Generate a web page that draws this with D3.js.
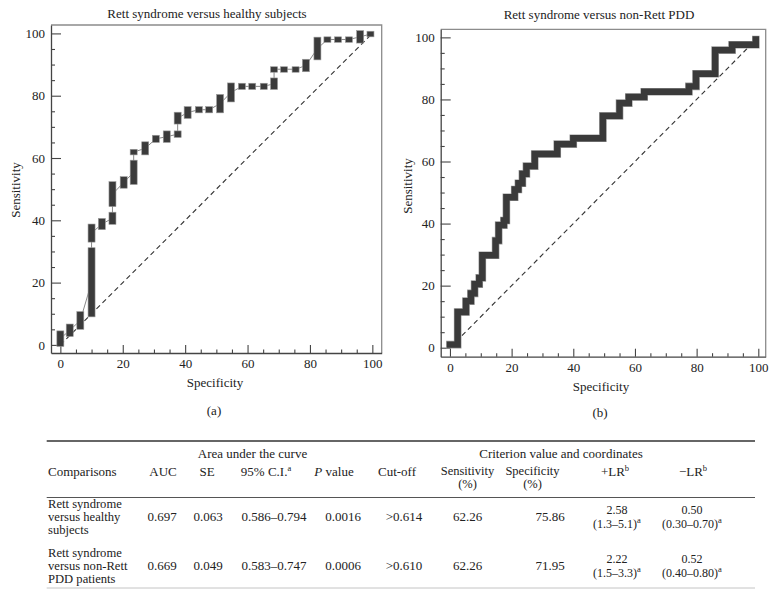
<!DOCTYPE html>
<html><head><meta charset="utf-8">
<script src="https://cdn.jsdelivr.net/npm/d3@7"></script>
<style>
body{margin:0;background:#fff}
svg{display:block}
text{font-family:"Liberation Serif","DejaVu Serif",serif;fill:#222}
</style>
</head><body>
<svg id="c" width="775" height="597"></svg>
<script>
// ---------------- DATA ----------------
const majorTicks = [0, 20, 40, 60, 80, 100];
const minorTicks = [5, 10, 15, 25, 30, 35, 45, 50, 55, 65, 70, 75, 85, 90, 95];
const titleA = "Rett syndrome versus healthy subjects";
const titleB = "Rett syndrome versus non-Rett PDD";
const xLabel = "Specificity";
const yLabel = "Sensitivity";
const panelTags = ["(a)", "(b)"];

// Panel (a): ROC points drawn as boxes (specificity, sensitivity range)
const healthySpec = [0, 3, 6.4, 10, 10, 13.3, 16.7, 16.7, 20.3, 23.5, 23.5, 27.2, 30.6, 34.1, 37.6, 37.6, 40.8, 44.4, 47.7, 51.2, 54.7, 58.2, 61.5, 65.2, 68.5, 68.5, 71.7, 75.4, 78.7, 82.4, 85.6, 89, 92.5, 96.1, 99.4];
const healthySensLow = [-0.5, 2.7, 5, 9, 33, 37, 38.7, 44.4, 50.3, 51.5, 61, 61, 65, 65, 66.6, 70.9, 72.7, 74.5, 74.5, 74.5, 78, 82, 82, 82, 82, 87.7, 87.7, 87.7, 87.7, 91.5, 97.2, 97.2, 97.2, 96.9, 98.9];
const healthySensHigh = [4.5, 6.7, 10.7, 31.2, 38.8, 40.6, 42.6, 52.4, 54, 59.3, 62.8, 65.2, 67.3, 68.7, 68.7, 74.7, 76.5, 76.5, 76.5, 80.4, 84.1, 84, 84, 84, 85.7, 89.3, 89.3, 89.3, 91.7, 98.8, 98.9, 98.9, 98.9, 100.9, 100.7];

// Panel (b): staircase ROC curve vertices
const pddSpec = [0, 2.5, 2.5, 5.2, 5.2, 6.8, 6.8, 8, 8, 9.5, 9.5, 10.5, 10.5, 14.8, 14.8, 15.8, 15.8, 17.5, 17.5, 18.3, 18.3, 21, 21, 22.2, 22.2, 23.5, 23.5, 24.8, 24.8, 27.5, 27.5, 34.8, 34.8, 40, 40, 49.6, 49.6, 55, 55, 58, 58, 63, 63, 77.5, 77.5, 79.8, 79.8, 86, 86, 91.5, 91.5, 99.2, 99.2];
const pddSens = [1, 1, 11.5, 11.5, 15, 15, 17.5, 17.5, 20.5, 20.5, 22.5, 22.5, 29.8, 29.8, 34.5, 34.5, 39.5, 39.5, 41, 41, 48.5, 48.5, 51, 51, 53, 53, 56, 56, 58.5, 58.5, 62.4, 62.4, 65.6, 65.6, 67.5, 67.5, 74.7, 74.7, 78.8, 78.8, 80.8, 80.8, 82.5, 82.5, 84.2, 84.2, 88.3, 88.3, 95.9, 95.9, 97.6, 97.6, 99.3];

const diagonal = [0, 100];

// Table
const groupHeaders = ["Area under the curve", "Criterion value and coordinates"];
const columnHeaders = ["Comparisons", "AUC", "SE", "95% C.I.", "P value", "Cut-off", "Sensitivity", "Specificity", "+LR", "\u2212LR"];
const percentUnit = "(%)";
const comparisons = [["Rett syndrome", "versus healthy", "subjects"], ["Rett syndrome", "versus non-Rett", "PDD patients"]];
const aucValues = ["0.697", "0.669"];
const seValues = ["0.063", "0.049"];
const ciValues = ["0.586\u20130.794", "0.583\u20130.747"];
const pValues = ["0.0016", "0.0006"];
const cutoffValues = [">0.614", ">0.610"];
const sensValues = ["62.26", "62.26"];
const specValues = ["75.86", "71.95"];
const plusLR = ["2.58", "2.22"];
const plusLRci = ["(1.3\u20135.1)", "(1.5\u20133.3)"];
const minusLR = ["0.50", "0.52"];
const minusLRci = ["(0.30\u20130.70)", "(0.40\u20130.80)"];

// ---------------- DRAW ----------------
const svg = d3.select("#c");
svg.append("rect").attr("width", 775).attr("height", 597).attr("fill", "#fff");
const FONT = "Liberation Serif, DejaVu Serif, serif";

function panel(cfg) {
  const g = svg.append("g");
  const x = d3.scaleLinear().domain(cfg.xDom).range(cfg.xRange);
  const y = d3.scaleLinear().domain(cfg.yDom).range(cfg.yRange);
  const L = cfg.xRange[0], R = cfg.xRange[1], B = cfg.yRange[0], T = cfg.yRange[1];

  g.append("path").attr("d", `M${L},${T}H${R}V${B}`)
    .attr("fill", "none").attr("stroke", "#8c8c8c").attr("stroke-width", 1.3);

  const style = s => {
    s.attr("color", "#444").attr("font-family", FONT).attr("font-size", 13);
    s.selectAll("text").attr("fill", "#222");
    s.selectAll("line").attr("stroke-width", 1.1);
    s.select(".domain").attr("stroke-width", 1.3);
  };
  g.append("g").attr("transform", `translate(0,${B})`)
    .call(d3.axisBottom(x).tickValues(minorTicks).tickSize(-3.5).tickFormat(""))
    .call(s => s.select(".domain").remove()).call(style);
  g.append("g").attr("transform", `translate(0,${B})`)
    .call(d3.axisBottom(x).tickValues(majorTicks).tickSize(-8).tickSizeOuter(0).tickPadding(6))
    .call(style);
  g.append("g").attr("transform", `translate(${L},0)`)
    .call(d3.axisLeft(y).tickValues(minorTicks).tickSize(-4).tickFormat(""))
    .call(s => s.select(".domain").remove()).call(style);
  g.append("g").attr("transform", `translate(${L},0)`)
    .call(d3.axisLeft(y).tickValues(majorTicks).tickSize(-10).tickSizeOuter(0).tickPadding(6))
    .call(style);

  g.append("line")
    .attr("x1", x(diagonal[0])).attr("y1", y(diagonal[0]))
    .attr("x2", x(diagonal[1])).attr("y2", y(diagonal[1]))
    .attr("stroke", "#333").attr("stroke-width", 1.1).attr("stroke-dasharray", "5,3.5");

  g.append("text").attr("x", cfg.titleX).attr("y", cfg.titleY).attr("text-anchor", "middle")
    .attr("font-size", 13).text(cfg.title);
  g.append("text").attr("x", cfg.xLabX).attr("y", cfg.xLabY).attr("text-anchor", "middle")
    .attr("font-size", 13).text(xLabel);
  g.append("text").attr("transform", `translate(${cfg.yLabX},${cfg.yLabY}) rotate(-90)`)
    .attr("text-anchor", "middle").attr("font-size", 13).text(yLabel);
  g.append("text").attr("x", cfg.tagX).attr("y", cfg.tagY).attr("text-anchor", "middle")
    .attr("font-size", 13).text(cfg.tag);
  return {g, x, y};
}

// Panel (a)
const A = panel({
  xDom: [-3, 103], xRange: [51, 381.7], yDom: [-2.6, 102.7], yRange: [353, 25],
  title: titleA, titleX: 207, titleY: 18,
  xLabX: 215, xLabY: 387, yLabX: 20, yLabY: 190, tag: panelTags[0], tagX: 214, tagY: 415
});
const boxes = healthySpec.map((s, i) => ({s, lo: healthySensLow[i], hi: healthySensHigh[i]}));
A.g.append("path")
  .attr("d", d3.line().x(d => A.x(d.s)).y(d => A.y((d.lo + d.hi) / 2))(boxes))
  .attr("fill", "none").attr("stroke", "#888").attr("stroke-width", 1);
A.g.selectAll("rect.box").data(boxes).join("rect").attr("class", "box")
  .attr("x", d => A.x(d.s) - 3.5).attr("width", 7)
  .attr("y", d => A.y(d.hi))
  .attr("height", d => Math.max(A.y(d.lo) - A.y(d.hi), 5.5))
  .attr("fill", "#3b3b3b").attr("stroke", "#9a9a9a").attr("stroke-width", 0.6);

// Panel (b)
const Bp = panel({
  xDom: [-3, 102.4], xRange: [440.7, 765.7], yDom: [-2.9, 102.6], yRange: [356.7, 29.3],
  title: titleB, titleX: 599, titleY: 18.5,
  xLabX: 601, xLabY: 391, yLabX: 412, yLabY: 186, tag: panelTags[1], tagX: 600, tagY: 417
});
const pts = pddSpec.map((s, i) => [s, pddSens[i]]);
const lineB = d3.line().x(d => Bp.x(d[0])).y(d => Bp.y(d[1]));
Bp.g.append("path").attr("d", lineB(pts)).attr("fill", "none")
  .attr("stroke", "#9a9a9a").attr("stroke-width", 7.6)
  .attr("stroke-linecap", "square").attr("stroke-linejoin", "miter");
Bp.g.append("path").attr("d", lineB(pts)).attr("fill", "none")
  .attr("stroke", "#3a3a3a").attr("stroke-width", 6.4)
  .attr("stroke-linecap", "square").attr("stroke-linejoin", "miter");

// ---------------- TABLE ----------------
const tb = svg.append("g").attr("font-size", 13);
const tableX0 = 46.7, tableX1 = 755;
tb.append("line").attr("x1", tableX0).attr("x2", tableX1).attr("y1", 441).attr("y2", 441)
  .attr("stroke", "#333").attr("stroke-width", 1.3);
tb.append("line").attr("x1", tableX0).attr("x2", tableX1).attr("y1", 497.5).attr("y2", 497.5)
  .attr("stroke", "#555").attr("stroke-width", 1);
tb.append("line").attr("x1", tableX0).attr("x2", tableX1).attr("y1", 588).attr("y2", 588)
  .attr("stroke", "#c4c4c4").attr("stroke-width", 1);

function t(x, y, s, anchor) {
  return tb.append("text").attr("x", x).attr("y", y).attr("text-anchor", anchor || "middle").text(s);
}
// multi-line cell; lines: [{s, sup?}]
function multi(x, y0, gap, lines, anchor, size) {
  const el = tb.append("text").attr("text-anchor", anchor || "middle");
  if (size) el.attr("font-size", size);
  lines.forEach((ln, k) => {
    el.append("tspan").attr("x", x).attr("y", y0 + k * gap).text(ln.s);
    if (ln.sup) el.append("tspan").attr("font-size", 8.5).attr("dy", -5).text(ln.sup);
  });
  return el;
}
function tSup(x, y, s, sup, anchor) {
  return multi(x, y, 0, [{s, sup}], anchor);
}
t(252.5, 457.5, groupHeaders[0]);
t(561, 457.5, groupHeaders[1]);
const hY = 476;
const LG = 13.4;   // line gap for stacked cells
const LS = 12;     // font size for stacked cells
t(48, hY, columnHeaders[0], "start");
t(163, hY, columnHeaders[1]);
t(207, hY, columnHeaders[2]);
tSup(266, hY, columnHeaders[3], "a");
const pv = tb.append("text").attr("x", 334).attr("y", hY).attr("text-anchor", "middle");
pv.append("tspan").attr("font-style", "italic").text(columnHeaders[4].split(" ")[0]);
pv.append("tspan").text(" " + columnHeaders[4].split(" ")[1]);
t(397, hY, columnHeaders[5]);
multi(467.5, hY - 1, LG, [{s: columnHeaders[6]}, {s: percentUnit}], "middle", 12.5);
multi(532.5, hY - 1, LG, [{s: columnHeaders[7]}, {s: percentUnit}], "middle", 12.5);
tSup(615, hY, columnHeaders[8], "b");
tSup(693, hY, columnHeaders[9], "b");

const rowBase = [521, 570];
rowBase.forEach((yb, i) => {
  multi(48, yb - LG, LG, comparisons[i].map(s => ({s})), "start", 12.6);
  t(162, yb, aucValues[i]);
  t(208, yb, seValues[i]);
  t(274, yb, ciValues[i]);
  t(343, yb, pValues[i]);
  t(404, yb, cutoffValues[i]);
  t(467.5, yb, sensValues[i]);
  t(550, yb, specValues[i]);
  multi(617, yb - 6.7, LG, [{s: plusLR[i]}, {s: plusLRci[i], sup: "a"}], "middle", LS);
  multi(692, yb - 6.7, LG, [{s: minusLR[i]}, {s: minusLRci[i], sup: "a"}], "middle", LS);
});
</script>
</body></html>
